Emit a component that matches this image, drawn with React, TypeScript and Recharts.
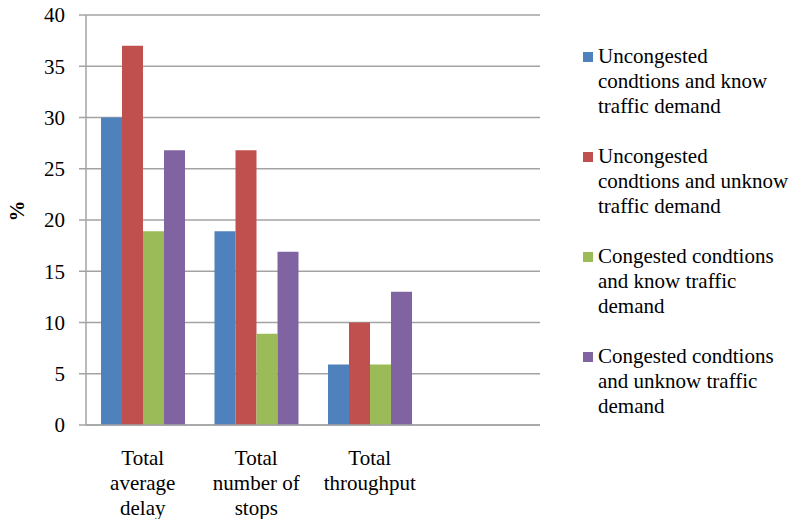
import React from "react";
import { BarChart, Bar, XAxis, YAxis, CartesianGrid, Legend } from "recharts";

const categories = ["Total average delay", "Total number of stops", "Total throughput", ""];
const categoryTickLines = [["Total", "average", "delay"], ["Total", "number of", "stops"], ["Total", "throughput"], []];

const seriesNames = [
  "Uncongested condtions and know traffic demand",
  "Uncongested condtions and unknow traffic demand",
  "Congested condtions and know traffic demand",
  "Congested condtions and unknow traffic demand",
];
const legendLines = [
  ["Uncongested", "condtions and know", "traffic demand"],
  ["Uncongested", "condtions and unknow", "traffic demand"],
  ["Congested condtions", "and know traffic", "demand"],
  ["Congested condtions", "and unknow traffic", "demand"],
];
const seriesColors = ["#4F81BD", "#C0504D", "#9BBB59", "#8064A2"];

const uncongestedKnow = [30, 18.9, 5.9, null];
const uncongestedUnknow = [37, 26.8, 10, null];
const congestedKnow = [18.9, 8.9, 5.9, null];
const congestedUnknow = [26.8, 16.9, 13, null];

const yTicks = [0, 5, 10, 15, 20, 25, 30, 35, 40];

const seriesValues = [uncongestedKnow, uncongestedUnknow, congestedKnow, congestedUnknow];
const keys = ["s0", "s1", "s2", "s3"];

const data = categories.map((c, i) => {
  const row: any = { name: c };
  seriesValues.forEach((vals, s) => {
    row[keys[s]] = vals[i];
  });
  return row;
});

const FONT = "'Liberation Serif', 'Times New Roman', serif";
const GRID = "#a3a3a3";

const XTick = (props: any) => {
  const { x, y, payload } = props;
  const idx = categories.indexOf(payload.value);
  const lines = idx >= 0 ? categoryTickLines[idx] : [];
  return (
    <text x={x} y={y} textAnchor="middle" style={{ fontFamily: FONT }} fontSize={21} fill="#000">
      {lines.map((l, i) => (
        <tspan key={i} x={x} y={y + 40 + i * 25}>
          {l}
        </tspan>
      ))}
    </text>
  );
};

const renderLegend = () => (
  <div style={{ fontFamily: FONT, fontSize: 21, lineHeight: "25px", color: "#000" }}>
    {seriesNames.map((n, i) => (
      <div key={n} style={{ position: "relative", paddingLeft: 15, height: 75, marginBottom: 25 }}>
        <span
          style={{
            position: "absolute",
            left: 0,
            top: 8,
            width: 10,
            height: 10,
            background: seriesColors[i],
          }}
        />
        {legendLines[i].map((l, j) => (
          <div key={j} style={{ whiteSpace: "nowrap" }}>
            {l}
          </div>
        ))}
      </div>
    ))}
  </div>
);

const YLabel = (props: any) => {
  const { viewBox } = props;
  const cx = viewBox.x + 17;
  const cy = viewBox.y + viewBox.height / 2 - 9;
  return (
    <text
      x={cx}
      y={cy}
      transform={`rotate(-90, ${cx}, ${cy})`}
      textAnchor="middle"
      dominantBaseline="central"
      style={{ fontFamily: FONT }}
      fontSize={21}
      fontWeight="bold"
      fill="#000"
    >
      %
    </text>
  );
};

export default function App() {
  return (
    <div style={{ position: "absolute", left: 0, top: 0, width: 795, height: 519, background: "#fff" }}>
      <BarChart
        width={795}
        height={519}
        data={data}
        margin={{ top: 15, right: 255, bottom: 0, left: 0 }}
        barCategoryGap={15}
        barGap={0}
        style={{ fontFamily: FONT }}
      >
        <CartesianGrid vertical={false} stroke={GRID} strokeWidth={1.5} />
        <XAxis
          dataKey="name"
          tick={<XTick />}
          tickLine={false}
          tickSize={0}
          tickMargin={0}
          interval={0}
          axisLine={{ stroke: GRID, strokeWidth: 1.5 }}
          height={94}
        />
        <YAxis
          width={86}
          domain={[0, 40]}
          ticks={yTicks}
          interval={0}
          tickSize={7}
          tickMargin={14}
          tickLine={{ stroke: GRID, strokeWidth: 1.5 }}
          axisLine={{ stroke: GRID, strokeWidth: 1.5 }}
          tick={{ fontFamily: FONT, fontSize: 21, fill: "#000" }}
          label={<YLabel />}
        />
        <Legend
          layout="vertical"
          align="center"
          verticalAlign="middle"
          content={renderLegend}
          wrapperStyle={{ left: 583, top: 44, width: 212 }}
        />
        {keys.map((k, i) => (
          <Bar key={k} dataKey={k} name={seriesNames[i]} fill={seriesColors[i]} isAnimationActive={false} />
        ))}
      </BarChart>
    </div>
  );
}
